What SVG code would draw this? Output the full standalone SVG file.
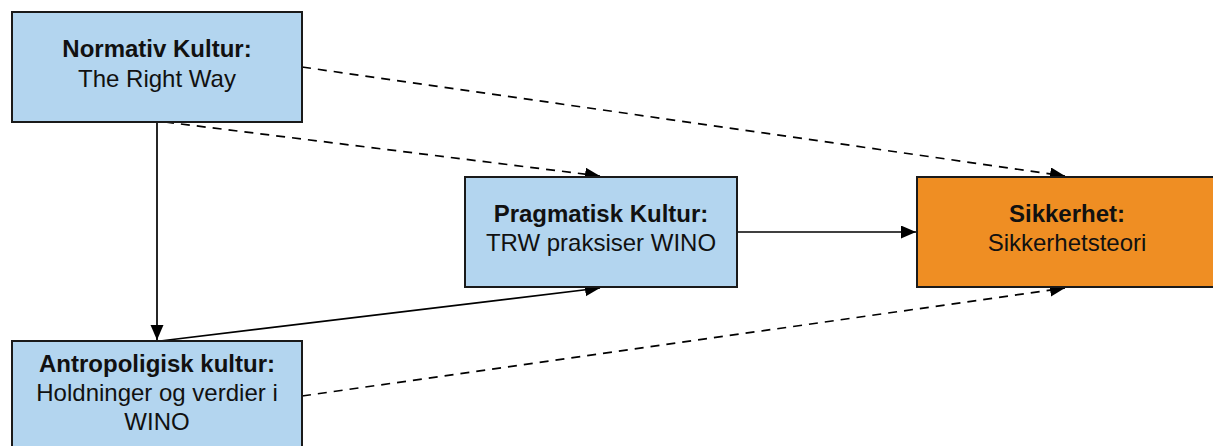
<svg xmlns="http://www.w3.org/2000/svg" width="1213" height="446" viewBox="0 0 1213 446">
<style>
.blue{fill:#b3d5ef;stroke:#1a1a1a;stroke-width:2}
.orange{fill:#ef8e23;stroke:#1a1a1a;stroke-width:2}
text{font-family:"Liberation Sans",Arial,sans-serif;font-size:24px;fill:#111;text-anchor:middle}
.b{font-weight:bold}
.c{fill:none;stroke:#000;stroke-width:1.7}
.d{stroke-dasharray:9 7}
</style>
<defs>
<marker id="ah" markerUnits="userSpaceOnUse" markerWidth="16" markerHeight="14" refX="15" refY="6.5" orient="auto">
<path d="M0,0 L15,6.5 L0,13 Z" fill="#000"/>
</marker>
</defs>
<g id="connectors">
<path class="c d" d="M302,67 L1065,176" marker-end="url(#ah)"/>
<path class="c d" d="M165,122 L600,176" marker-end="url(#ah)"/>
<path class="c" d="M157,122 L157,340" marker-end="url(#ah)"/>
<path class="c" d="M160,341 L600,288" marker-end="url(#ah)"/>
<path class="c" d="M737,232 L916,232" marker-end="url(#ah)"/>
<path class="c d" d="M302,396 L1065,288" marker-end="url(#ah)"/>
</g>
<g id="normativ">
<rect class="blue" x="12" y="12" width="290" height="110"/>
<text x="157" y="57" class="b">Normativ Kultur:</text>
<text x="157" y="87">The Right Way</text>
</g>
<g id="pragmatisk">
<rect class="blue" x="465" y="177" width="272" height="110"/>
<text x="601" y="221.5" class="b">Pragmatisk Kultur:</text>
<text x="601" y="251">TRW praksiser WINO</text>
</g>
<g id="sikkerhet">
<rect class="orange" x="917" y="177" width="300" height="110"/>
<text x="1067" y="221.5" class="b">Sikkerhet:</text>
<text x="1067" y="251">Sikkerhetsteori</text>
</g>
<g id="antropoligisk">
<rect class="blue" x="12" y="341" width="290" height="110"/>
<text x="157" y="371.5" class="b">Antropoligisk kultur:</text>
<text x="157" y="401">Holdninger og verdier i</text>
<text x="157" y="429.5">WINO</text>
</g>
</svg>
